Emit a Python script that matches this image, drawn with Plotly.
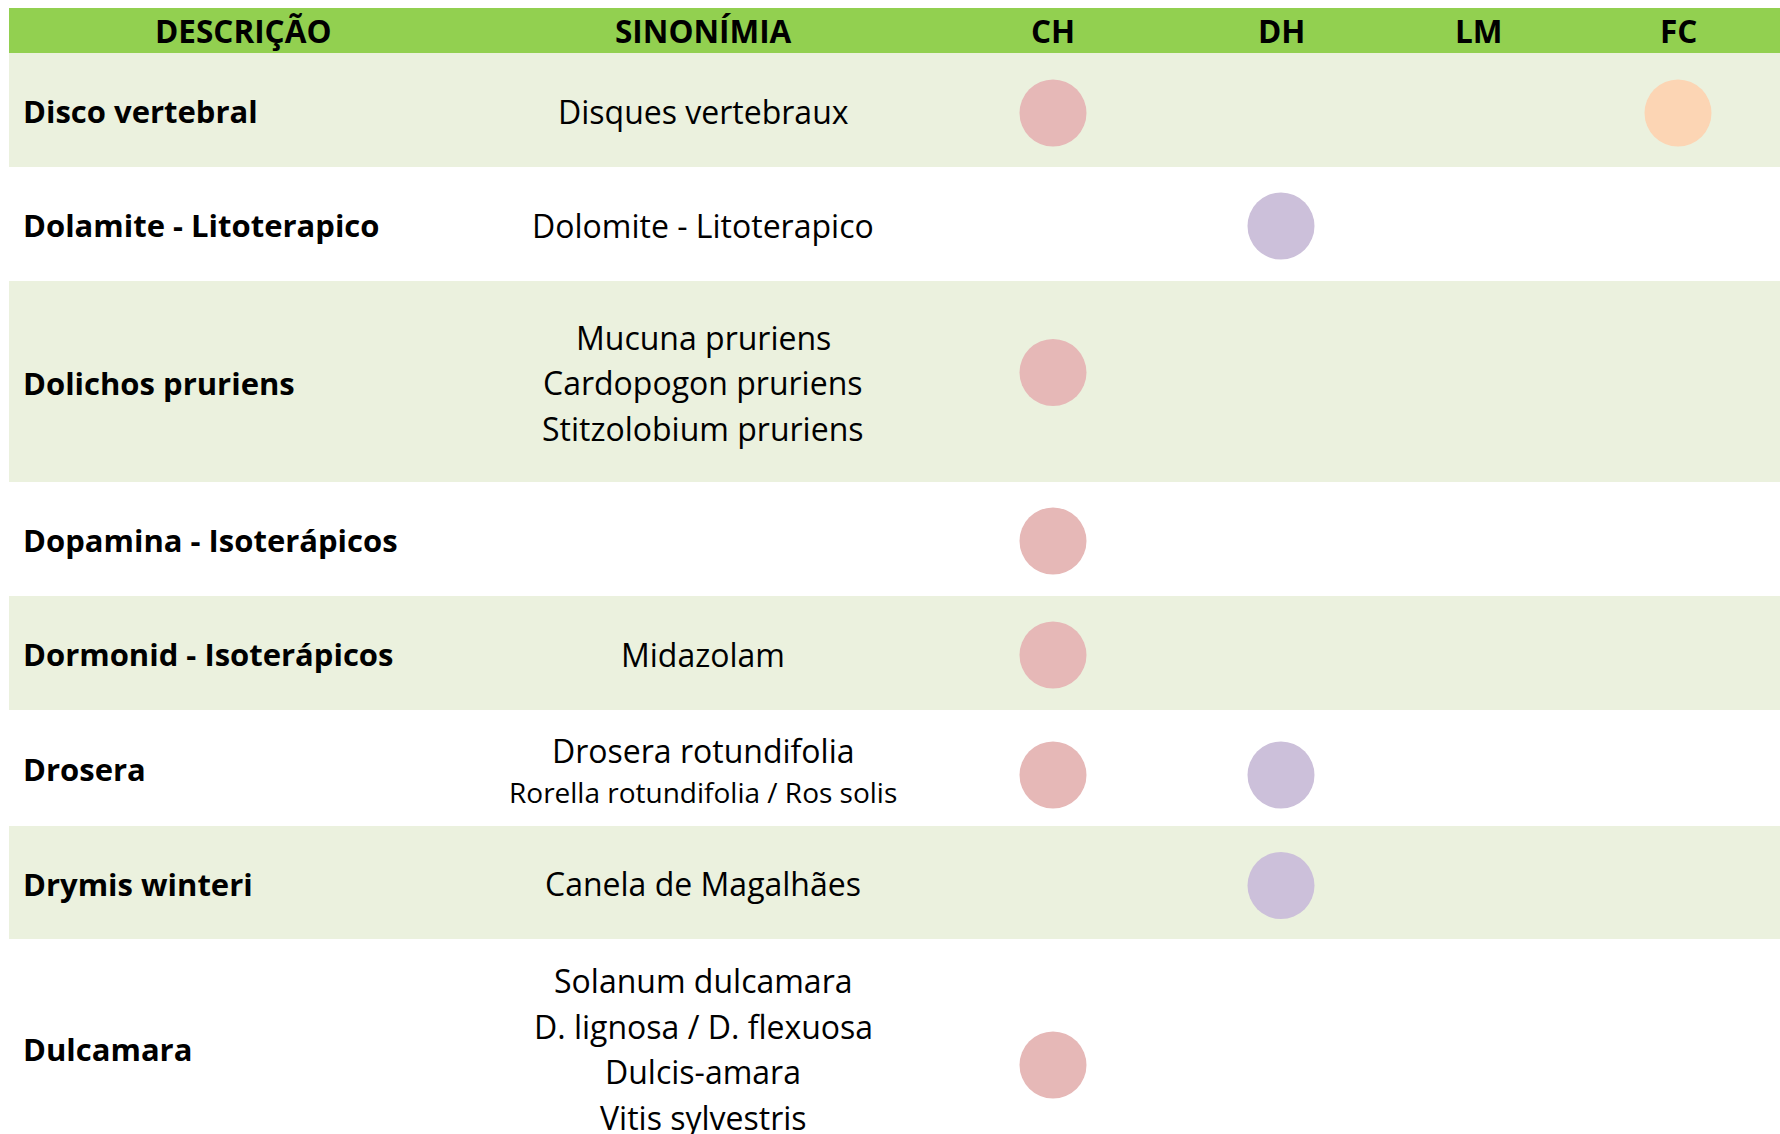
import plotly.graph_objects as go

# ---------------- data ----------------
descricao = [
    "Disco vertebral",
    "Dolamite - Litoterapico",
    "Dolichos pruriens",
    "Dopamina - Isoterápicos",
    "Dormonid - Isoterápicos",
    "Drosera",
    "Drymis winteri",
    "Dulcamara",
]
sinonimia = [
    ["Disques vertebraux"],
    ["Dolomite - Litoterapico"],
    ["Mucuna pruriens", "Cardopogon pruriens", "Stitzolobium pruriens"],
    [],
    ["Midazolam"],
    ["Drosera rotundifolia", "Rorella rotundifolia / Ros solis"],
    ["Canela de Magalhães"],
    ["Solanum dulcamara", "D. lignosa / D. flexuosa", "Dulcis-amara", "Vitis sylvestris"],
]
header_labels = ["DESCRIÇÃO", "SINONÍMIA", "CH", "DH", "LM", "FC"]
mark_columns = ["CH", "DH", "LM", "FC"]
ch = [1, 0, 1, 1, 1, 1, 0, 1]
dh = [0, 1, 0, 0, 0, 1, 1, 0]
lm = [0, 0, 0, 0, 0, 0, 0, 0]
fc = [1, 0, 0, 0, 0, 0, 0, 0]
small_lines = ["Rorella rotundifolia / Ros solis"]

# ---------------- layout / style ----------------
W, H = 1780, 1134
TABLE_LEFT = 9
HEADER_TOP, HEADER_BOT = 8, 53
row_heights = [114, 114, 201, 114, 114, 116, 113, 218]
col_center = {"DESCRIÇÃO": 243, "SINONÍMIA": 703, "CH": 1053, "DH": 1281, "LM": 1479, "FC": 1678}
DESC_X = 21
dot_nudge = [3, 2, -9, 2, 2, 7, 3, 17]
dot_colors = {"CH": "#E6B8B7", "DH": "#CCC0DA", "LM": "#D8E4BC", "FC": "#FCD5B4"}
HEADER_GREEN = "#92D050"
BAND_GREEN = "#EBF1DE"
FONT = "Open Sans"
HEAD_SIZE = 31.5
BOLD_SIZE = 31
SIZE = 32
SMALL = 28
LINE_H = 45.5
SMALL_LINE_H = 38
TEXT_DY = 1
DOT_SIZE = 67

marks = {"CH": ch, "DH": dh, "LM": lm, "FC": fc}

# row boundaries
row_top = []
y = HEADER_BOT
for h in row_heights:
    row_top.append(y)
    y += h
row_mid = [t + h / 2 for t, h in zip(row_top, row_heights)]

fig = go.Figure()
shapes = []
shapes.append(dict(type="rect", xref="x", yref="y", x0=TABLE_LEFT, x1=W, y0=HEADER_TOP, y1=HEADER_BOT,
                   fillcolor=HEADER_GREEN, line=dict(width=0), layer="below"))
for i, (t, h) in enumerate(zip(row_top, row_heights)):
    if i % 2 == 0:
        shapes.append(dict(type="rect", xref="x", yref="y", x0=TABLE_LEFT, x1=W, y0=t, y1=t + h,
                           fillcolor=BAND_GREEN, line=dict(width=0), layer="below"))

annotations = []
for lab in header_labels:
    annotations.append(dict(x=col_center[lab], y=(HEADER_TOP + HEADER_BOT) / 2, xref="x", yref="y",
                            text="<b>%s</b>" % lab, showarrow=False, xanchor="center", yanchor="middle",
                            font=dict(family=FONT, size=HEAD_SIZE, color="black")))

for i, name in enumerate(descricao):
    annotations.append(dict(x=DESC_X, y=row_mid[i] + TEXT_DY, xref="x", yref="y", text="<b>%s</b>" % name,
                            showarrow=False, xanchor="left", yanchor="middle",
                            font=dict(family=FONT, size=BOLD_SIZE, color="black")))
    lines = sinonimia[i]
    sizes = [SMALL if ln in small_lines else SIZE for ln in lines]
    heights = [SMALL_LINE_H if ln in small_lines else LINE_H for ln in lines]
    total = sum(heights)
    cur = row_mid[i] + TEXT_DY - total / 2
    for ln, s, lh in zip(lines, sizes, heights):
        annotations.append(dict(x=col_center["SINONÍMIA"], y=cur + lh / 2, xref="x", yref="y", text=ln,
                                showarrow=False, xanchor="center", yanchor="middle",
                                font=dict(family=FONT, size=s, color="black")))
        cur += lh

for c in mark_columns:
    xs, ys = [], []
    for i, v in enumerate(marks[c]):
        if v:
            xs.append(col_center[c])
            ys.append(row_mid[i] + dot_nudge[i])
    fig.add_trace(go.Scatter(x=xs, y=ys, mode="markers", name=c, showlegend=False, hoverinfo="skip",
                             marker=dict(size=DOT_SIZE, color=dot_colors[c], line=dict(width=0))))

fig.update_layout(
    width=W, height=H,
    margin=dict(l=0, r=0, t=0, b=0),
    paper_bgcolor="white", plot_bgcolor="white",
    xaxis=dict(range=[0, W], visible=False, fixedrange=True),
    yaxis=dict(range=[H, 0], visible=False, fixedrange=True),
    shapes=shapes, annotations=annotations,
    showlegend=False,
)
fig.write_html("out.html", config=dict(displayModeBar=False, staticPlot=True),
               post_script="document.body.style.margin='0';document.body.style.overflow='hidden';")
